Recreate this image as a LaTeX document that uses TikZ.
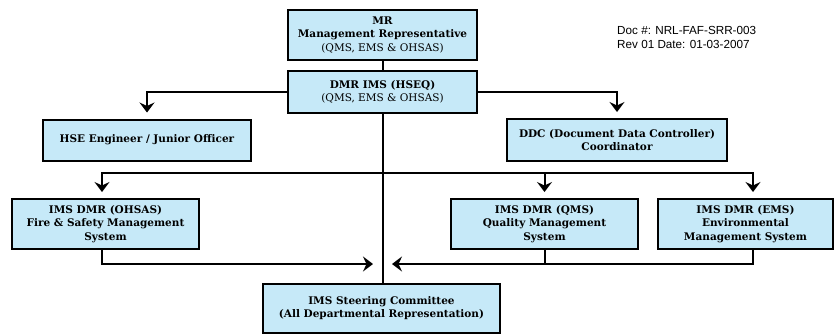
\documentclass[tikz,border=0pt]{standalone}
\usepackage{fontspec}
\usepackage{tikz}
\usetikzlibrary{arrows.meta}
\setmainfont{DejaVu Serif}
\newfontfamily\docfont{Liberation Sans}
\definecolor{boxblue}{RGB}{198,233,248}
\tikzset{
  orgbox/.style={draw=black,line width=2pt,fill=boxblue,align=center,
    inner sep=2pt,font=\fontsize{10.5}{13.5}\selectfont\bfseries},
  link/.style={line width=2pt},
  arr/.style={line width=2pt,-{Stealth[length=10pt,width=15pt,inset=3.5pt]},shorten >=6pt}
}
\begin{document}
\begin{tikzpicture}[x=1pt,y=-1pt]
\useasboundingbox (0,0) rectangle (835,333);
% boxes
\node[orgbox,minimum width=189pt,minimum height=50pt] (mr) at (382.5,35)
  {MR\\Management Representative\\\mdseries(QMS, EMS \& OHSAS)};
\node[orgbox,minimum width=189pt,minimum height=42pt] (dmr) at (382.5,92)
  {DMR IMS (HSEQ)\\\mdseries(QMS, EMS \& OHSAS)};
\node[orgbox,minimum width=208pt,minimum height=41pt] (hse) at (147,140)
  {HSE Engineer / Junior Officer};
\node[orgbox,minimum width=220pt,minimum height=42pt] (ddc) at (617,140)
  {DDC (Document Data Controller)\\Coordinator};
\node[orgbox,minimum width=187pt,minimum height=50pt] (ohsas) at (105.5,224)
  {IMS DMR (OHSAS)\\Fire \& Safety Management\\System};
\node[orgbox,minimum width=187pt,minimum height=50pt] (qms) at (544.5,224)
  {IMS DMR (QMS)\\Quality Management\\System};
\node[orgbox,minimum width=175pt,minimum height=50pt] (ems) at (745.5,224)
  {IMS DMR (EMS)\\Environmental\\Management System};
\node[orgbox,minimum width=237pt,minimum height=49pt] (steer) at (381.5,308)
  {IMS Steering Committee\\(All Departmental Representation)};
% doc reference
\node[font=\docfont\fontsize{11.7}{14}\selectfont,align=left,anchor=north west,inner sep=0pt] (doc) at (617,26)
  {Doc \#: NRL-FAF-SRR-003\\Rev 01 Date: 01-03-2007};
% connectors
\coordinate (split) at (382.5,173);
\coordinate (lin) at (373,264);
\coordinate (rin) at (392,264);
\draw[link] (mr) -- (dmr);
\draw[arr] (dmr.west) -| (hse.north);
\draw[arr] (dmr.east) -| (ddc.north);
\draw[link] (dmr.south -| split) -- (steer.north -| split);
\draw[arr] (split) -| ([xshift=-3.5pt]ohsas.north);
\draw[arr] (split) -| (qms.north);
\draw[arr] (split) -| ([xshift=7.5pt]ems.north);
\draw[arr,shorten >=0pt] ([xshift=-3.5pt]ohsas.south) |- (lin);
\draw[arr,shorten >=0pt] ([xshift=7.5pt]ems.south) |- (rin);
\draw[link] (qms.south) -- (qms.south |- rin);
\end{tikzpicture}
\end{document}
